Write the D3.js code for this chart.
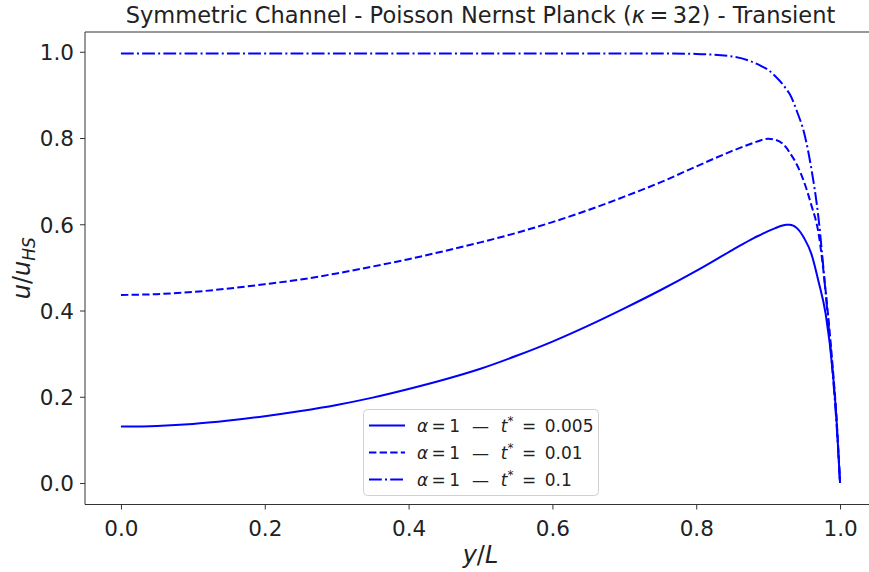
<!DOCTYPE html>
<html>
<head>
<meta charset="utf-8">
<script src="https://cdn.jsdelivr.net/npm/d3@7"></script>
<style>
  body { margin: 0; background: #fff; }
  svg { display: block; font-family: "DejaVu Sans", sans-serif; }
</style>
</head>
<body>
<svg id="chart" width="869" height="572"></svg>
<script>
// y/L positions shared by all three profiles
const yL = [0, 0.05, 0.1, 0.15, 0.2, 0.25, 0.3, 0.35, 0.4, 0.45, 0.5, 0.55, 0.6, 0.65, 0.7,
            0.75, 0.8, 0.85, 0.88, 0.89, 0.9, 0.91, 0.92, 0.925, 0.93, 0.94, 0.95, 0.96, 0.97,
            0.98, 0.99, 0.995, 1.0];

// u/u_HS
const uT005 = [0.131, 0.1325, 0.137, 0.145, 0.155, 0.167, 0.181, 0.198, 0.218, 0.240, 0.265, 0.295, 0.328, 0.365, 0.405,
               0.447, 0.492, 0.540, 0.568, 0.576, 0.584, 0.591, 0.597, 0.599, 0.599, 0.591, 0.568, 0.532, 0.468,
               0.392, 0.255, 0.150, 0.0];
const uT01 = [0.436, 0.438, 0.443, 0.451, 0.461, 0.472, 0.486, 0.502, 0.519, 0.538, 0.558, 0.580, 0.605, 0.633, 0.664,
              0.697, 0.734, 0.770, 0.789, 0.795, 0.798, 0.796, 0.787, 0.778, 0.766, 0.738, 0.698, 0.645, 0.580,
              0.445, 0.265, 0.155, 0.0];
const uT1 = [0.996, 0.996, 0.996, 0.996, 0.996, 0.996, 0.996, 0.996, 0.996, 0.996, 0.996, 0.996, 0.996, 0.996, 0.996,
             0.996, 0.995, 0.989, 0.975, 0.967, 0.958, 0.943, 0.925, 0.914, 0.902, 0.862, 0.812, 0.730, 0.615,
             0.440, 0.250, 0.140, 0.0];

const tValues = ["0.005", "0.01", "0.1"];
const dashes = [null, "7.4,3.2", "12.8,3.2,2,3.2"];
const series = [uT005, uT01, uT1];

const xTicks = [0.0, 0.2, 0.4, 0.6, 0.8, 1.0];
const yTicks = [0.0, 0.2, 0.4, 0.6, 0.8, 1.0];

const pLeft = 85, pRight = 876, pTop = 32, pBottom = 504.5;

const svg = d3.select("#chart");

const x = d3.scaleLinear().domain([-0.05, 1.05]).range([pLeft, pRight]);
const y = d3.scaleLinear().domain([-0.0498, 1.0458]).range([pBottom, pTop]);

// curves
const line = d3.line()
    .x((d, i) => x(yL[i]))
    .y(d => y(d))
    .curve(d3.curveMonotoneX);

series.forEach((s, k) => {
    svg.append("path")
        .datum(s)
        .attr("d", line)
        .attr("fill", "none")
        .attr("stroke", "#0000ff")
        .attr("stroke-width", 2)
        .attr("stroke-dasharray", dashes[k]);
});

// axes
const xAxis = svg.append("g")
    .attr("transform", `translate(0,${pBottom})`)
    .call(d3.axisBottom(x).tickValues(xTicks).tickFormat(d3.format(".1f")).tickSize(5).tickPadding(6));
const yAxis = svg.append("g")
    .attr("transform", `translate(${pLeft},0)`)
    .call(d3.axisLeft(y).tickValues(yTicks).tickFormat(d3.format(".1f")).tickSize(5).tickPadding(6));

[xAxis, yAxis].forEach(g => {
    g.select(".domain").remove();
    g.selectAll("line").attr("stroke", "#333");
    g.selectAll("text")
        .attr("fill", "#222")
        .style("font-size", "21.5px")
        .style("font-family", "DejaVu Sans");
});
xAxis.selectAll("text").attr("dy", "0.95em");
yAxis.selectAll("text").attr("dy", "0.36em");

// spines
svg.append("line").attr("x1", pLeft).attr("x2", pLeft).attr("y1", pTop).attr("y2", pBottom)
    .attr("stroke", "#333").attr("stroke-width", 1);
svg.append("line").attr("x1", pLeft).attr("x2", pRight).attr("y1", pTop).attr("y2", pTop)
    .attr("stroke", "#333").attr("stroke-width", 1);
svg.append("line").attr("x1", pLeft).attr("x2", pRight).attr("y1", pBottom).attr("y2", pBottom)
    .attr("stroke", "#333").attr("stroke-width", 1);
svg.append("line").attr("x1", pRight).attr("x2", pRight).attr("y1", pTop).attr("y2", pBottom)
    .attr("stroke", "#333").attr("stroke-width", 1);

// title
const title = svg.append("text")
    .attr("x", (pLeft + pRight) / 2)
    .attr("y", 23)
    .attr("text-anchor", "middle")
    .attr("fill", "#222")
    .style("font-size", "22.5px");
title.append("tspan").text("Symmetric Channel - Poisson Nernst Planck (");
title.append("tspan").style("font-style", "italic").text("κ");
title.append("tspan").text("\u2009=\u200932) - Transient");

// axis labels
const xl = svg.append("text")
    .attr("x", (pLeft + pRight) / 2)
    .attr("y", 563)
    .attr("text-anchor", "middle")
    .attr("fill", "#222")
    .style("font-size", "24px")
    .style("font-style", "italic");
xl.append("tspan").text("y");
xl.append("tspan").style("font-style", "normal").text("/");
xl.append("tspan").text("L");

const yl = svg.append("text")
    .attr("transform", `translate(30,${(pTop + pBottom) / 2}) rotate(-90)`)
    .attr("text-anchor", "middle")
    .attr("fill", "#222")
    .style("font-size", "24px")
    .style("font-style", "italic");
yl.append("tspan").text("u");
yl.append("tspan").style("font-style", "normal").text("/");
yl.append("tspan").text("u");
yl.append("tspan").attr("dy", 5).style("font-size", "17px").text("HS");

// legend
const lg = svg.append("g").attr("transform", "translate(363,409)");
lg.append("rect")
    .attr("x", 0.5).attr("y", 0.5)
    .attr("width", 235).attr("height", 86)
    .attr("rx", 4)
    .attr("fill", "#fff")
    .attr("fill-opacity", 0.8)
    .attr("stroke", "#d0d0d0");

tValues.forEach((t, k) => {
    const ry = 16.5 + k * 27;
    lg.append("line")
        .attr("x1", 6).attr("x2", 42)
        .attr("y1", ry).attr("y2", ry)
        .attr("stroke", "#0000ff")
        .attr("stroke-width", 2)
        .attr("stroke-dasharray", dashes[k]);
    const tx = lg.append("text")
        .attr("x", 54)
        .attr("y", ry + 6)
        .attr("fill", "#222")
        .style("font-size", "17px");
    tx.append("tspan").style("font-style", "italic").text("α");
    tx.append("tspan").text("\u2009=\u20091\u2002\u2009—\u2002\u2009");
    tx.append("tspan").style("font-style", "italic").text("t");
    tx.append("tspan").attr("dy", -7).style("font-size", "12px").text("*");
    tx.append("tspan").attr("dy", 7).text("\u2002=\u2002" + t);
});
</script>
</body>
</html>
